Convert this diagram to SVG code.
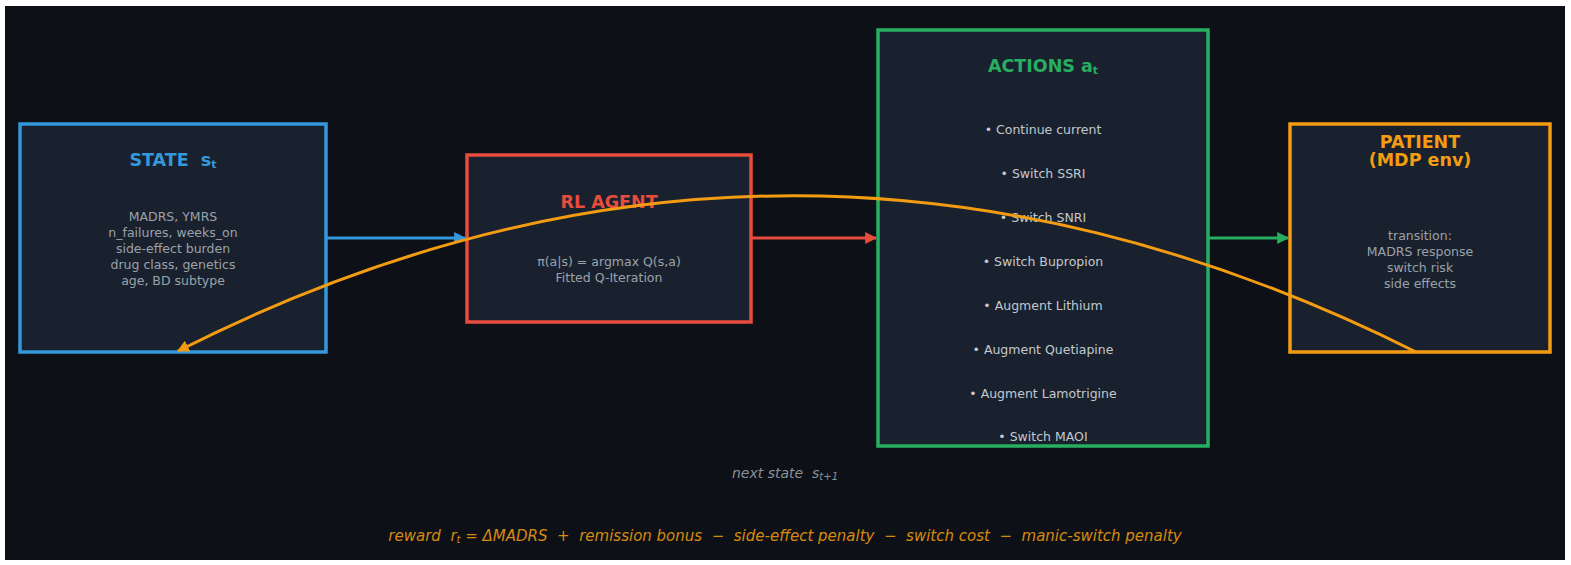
<svg xmlns="http://www.w3.org/2000/svg" width="1571" height="565" viewBox="0 0 1571 565">
<style>
text{white-space:pre}
.box{fill:#1a212e;stroke-width:3.5}
.title{font-family:"DejaVu Sans",sans-serif;font-weight:bold;font-size:17.5px;text-anchor:middle}
.body{font-family:"DejaVu Sans",sans-serif;font-size:12.5px;fill:#9aa1aa;text-anchor:middle}
.item{font-family:"DejaVu Sans",sans-serif;font-size:12.5px;fill:#c3c8cf;text-anchor:middle}
.conn{fill:none;stroke-width:3}
</style>
<defs>
<marker id="ab" viewBox="0 0 10 10" refX="9" refY="5" markerWidth="4" markerHeight="4" orient="auto" markerUnits="strokeWidth"><path d="M0,0 L10,5 L0,10 z" fill="#3498db"/></marker>
<marker id="ar" viewBox="0 0 10 10" refX="9" refY="5" markerWidth="4" markerHeight="4" orient="auto" markerUnits="strokeWidth"><path d="M0,0 L10,5 L0,10 z" fill="#e74c3c"/></marker>
<marker id="ag" viewBox="0 0 10 10" refX="9" refY="5" markerWidth="4" markerHeight="4" orient="auto" markerUnits="strokeWidth"><path d="M0,0 L10,5 L0,10 z" fill="#27ae60"/></marker>
<marker id="ao" viewBox="0 0 10 10" refX="9" refY="5" markerWidth="4" markerHeight="4" orient="auto" markerUnits="strokeWidth"><path d="M0,0 L10,5 L0,10 z" fill="#f39c12"/></marker>
</defs>
<rect x="0" y="0" width="1571" height="565" fill="#ffffff"/>
<rect x="5" y="6" width="1560" height="554" fill="#0d1117"/>

<g id="state">
<rect class="box" x="20" y="124" width="306" height="228" stroke="#3498db"/>
<text class="title" x="173" y="166" fill="#3498db">STATE  s<tspan font-size="11" dy="2">t</tspan></text>
<text class="body" x="173" y="221">MADRS, YMRS</text>
<text class="body" x="173" y="237">n_failures, weeks_on</text>
<text class="body" x="173" y="253">side-effect burden</text>
<text class="body" x="173" y="269">drug class, genetics</text>
<text class="body" x="173" y="285">age, BD subtype</text>
</g>

<g id="agent">
<rect class="box" x="467" y="155" width="284" height="167" stroke="#e74c3c"/>
<text class="title" x="609" y="208" fill="#e74c3c">RL AGENT</text>
<text class="body" x="609" y="266">π(a|s) = argmax Q(s,a)</text>
<text class="body" x="609" y="282">Fitted Q-Iteration</text>
</g>

<g id="actions">
<rect class="box" x="878" y="30" width="330" height="416" stroke="#27ae60"/>
<text class="title" x="1043" y="72" fill="#27ae60">ACTIONS a<tspan font-size="11" dy="2">t</tspan></text>
<text class="item" x="1043" y="134">• Continue current</text>
<text class="item" x="1043" y="178">• Switch SSRI</text>
<text class="item" x="1043" y="222">• Switch SNRI</text>
<text class="item" x="1043" y="266">• Switch Bupropion</text>
<text class="item" x="1043" y="310">• Augment Lithium</text>
<text class="item" x="1043" y="354">• Augment Quetiapine</text>
<text class="item" x="1043" y="398">• Augment Lamotrigine</text>
<text class="item" x="1043" y="441">• Switch MAOI</text>
</g>

<g id="patient">
<rect class="box" x="1290" y="124" width="260" height="228" stroke="#f39c12"/>
<text class="title" x="1420" y="148" fill="#f39c12">PATIENT</text>
<text class="title" x="1420" y="166" fill="#f39c12">(MDP env)</text>
<text class="body" x="1420" y="240">transition:</text>
<text class="body" x="1420" y="256">MADRS response</text>
<text class="body" x="1420" y="272">switch risk</text>
<text class="body" x="1420" y="288">side effects</text>
</g>

<g id="connectors">
<line class="conn" x1="327" y1="238" x2="465" y2="238" stroke="#3498db" marker-end="url(#ab)"/>
<line class="conn" x1="752" y1="238" x2="876" y2="238" stroke="#e74c3c" marker-end="url(#ar)"/>
<line class="conn" x1="1209" y1="238" x2="1288" y2="238" stroke="#27ae60" marker-end="url(#ag)"/>
<path class="conn" d="M1416,352 Q792,40 178,351" stroke="#f39c12" marker-end="url(#ao)"/>
</g>

<g id="labels">
<text x="785" y="478" font-family="DejaVu Sans, sans-serif" font-style="italic" font-size="14" fill="#8a9099" text-anchor="middle">next state  s<tspan font-size="10" dy="2">t+1</tspan></text>
<text x="785" y="541" font-family="DejaVu Sans, sans-serif" font-style="italic" font-size="15" fill="#d68910" text-anchor="middle">reward  r<tspan font-size="10" dy="2">t</tspan><tspan dy="-2"> = ΔMADRS  +  remission bonus  −  side-effect penalty  −  switch cost  −  manic-switch penalty</tspan></text>
</g>
</svg>
